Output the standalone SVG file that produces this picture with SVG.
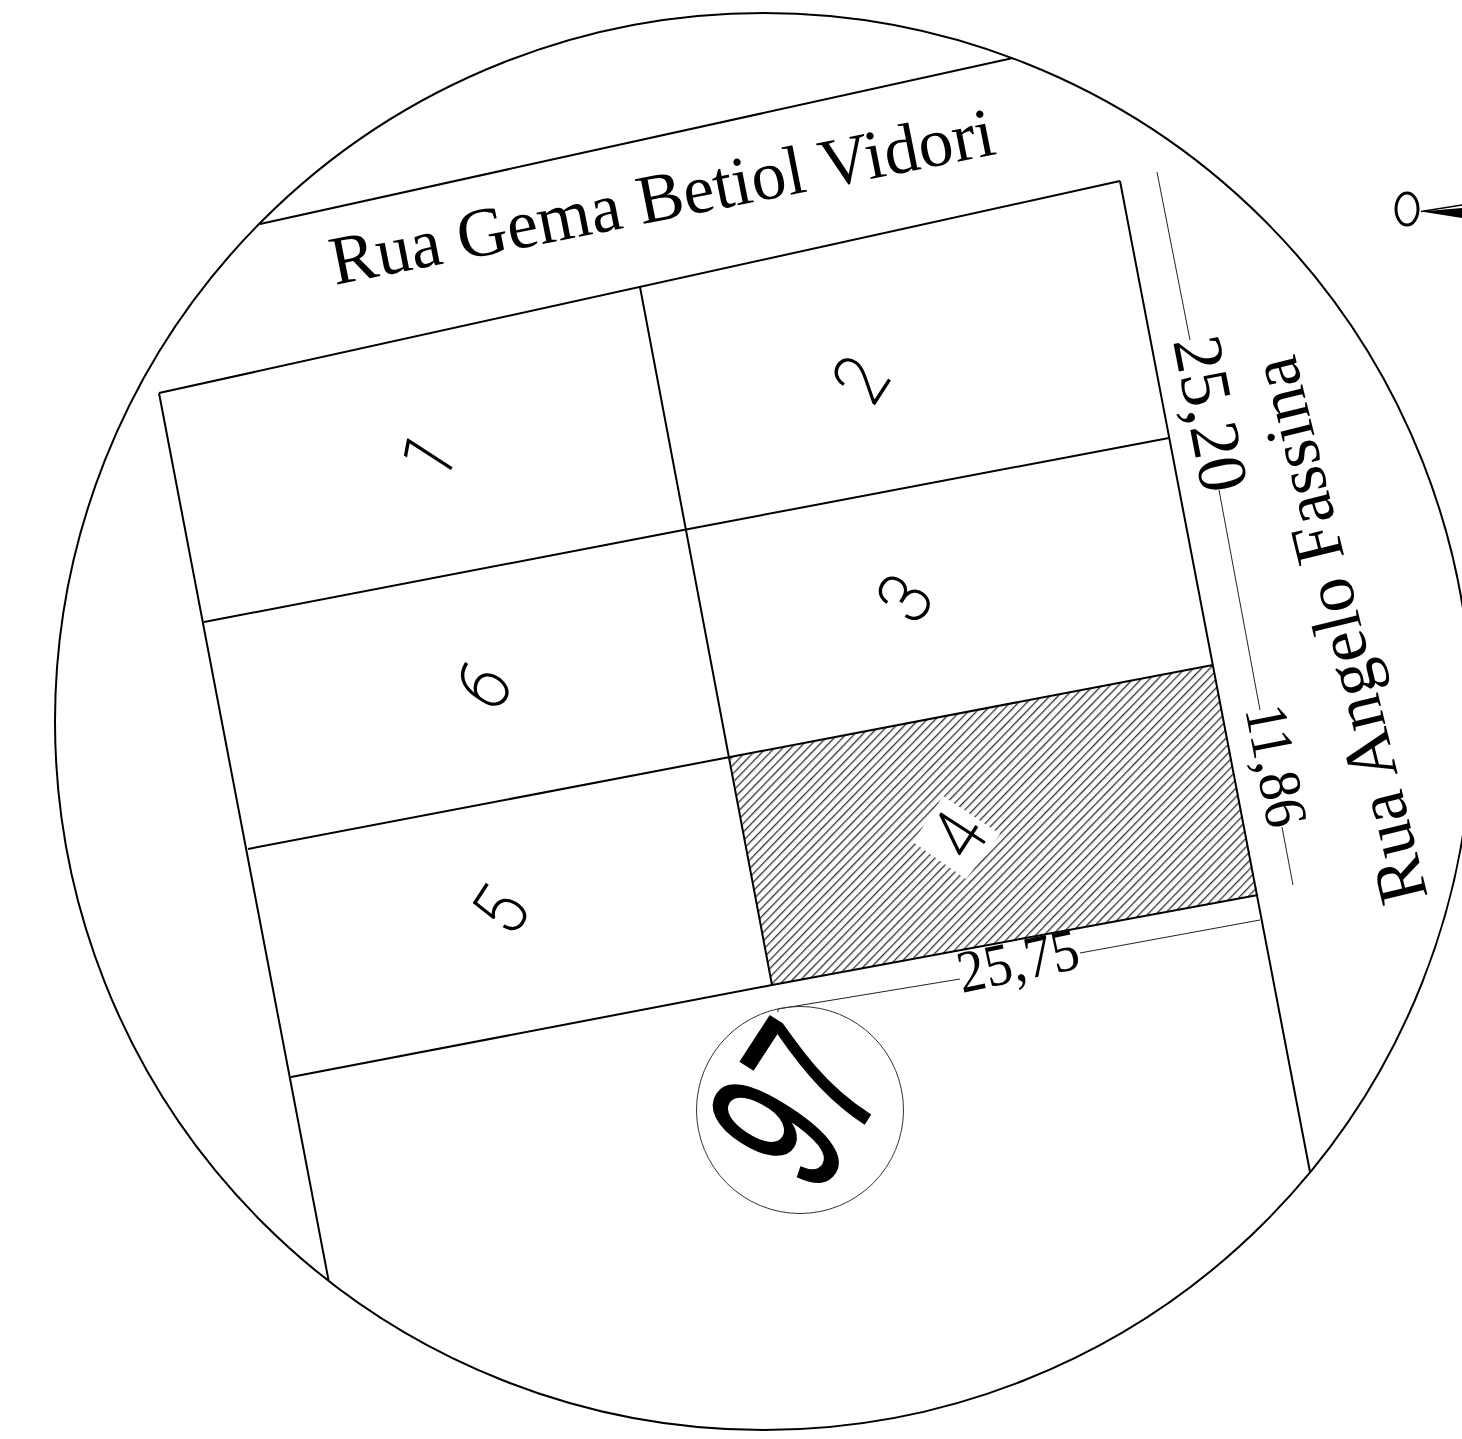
<svg xmlns="http://www.w3.org/2000/svg" width="1462" height="1439" viewBox="0 0 1462 1439">
<style>
.l{fill:none;stroke:#000;stroke-width:2}
.d{fill:none;stroke:#222;stroke-width:1}
.t{font-family:"Liberation Serif",serif;fill:#000}
.n{font-family:Roboto,sans-serif;font-weight:100;fill:#000;stroke:#000;stroke-width:1.6;font-size:73px;text-anchor:middle}
</style>
<defs>
<pattern id="h" width="6" height="6" patternUnits="userSpaceOnUse" patternTransform="rotate(-46)">
<rect width="6" height="6" fill="#fff"/><rect y="2" width="6" height="1.3" fill="#333"/>
</pattern>
</defs>
<rect width="1462" height="1439" fill="#fff"/>
<g id="site-boundary"><circle cx="763.500" cy="721.5" r="708.5" class="l"/></g>
<g id="lot-4">
<polygon points="730,757 1213,665 1258,895 772,985" fill="url(#h)"/>
<polygon points="943,796 1000,834 966,879 913,842" fill="#fff"/>
</g>
<g id="connectors">
<path class="l" d="M260,224L1013,58M159,393L1120,181M159,393L328.500,1280M1120,181L1310,1172M204,622L686,529.500L1169,438M248,849L730,757L1213,665M291,1077L772,985L1258,895M640,287L772,985"/>
<path class="d" d="M1157,172L1190,340M1219,490L1260,710M1282,827L1293,885M778,1012L778,1009L960,979M1080,953L1260,920"/>
<circle cx="800" cy="1110" r="103.500" fill="none" stroke="#333" stroke-width="1"/>
</g>
<g id="streets">
<text class="t" font-size="69.500" transform="translate(335,285) rotate(-11.2)">Rua Gema Betiol Vidori</text>
<text class="t" font-size="70" transform="translate(1428,897) rotate(-103.800)">Rua Angelo Fassina</text>
</g>
<g id="dimensions">
<text class="t" font-size="70" transform="translate(1173,341) rotate(79)">25,20</text>
<text class="t" font-size="60" transform="translate(1245,709) rotate(79) scale(0.93,1)">11,86</text>
<text class="t" font-size="60" transform="translate(962,993) rotate(-12) scale(0.91,1)">25,75</text>
</g>
<g id="lot-labels">
<text class="n" transform="translate(428,456) rotate(-57) scale(0.9,1) translate(0,26)">1</text>
<text class="n" transform="translate(860,379) rotate(-57) scale(0.9,1) translate(0,26)">2</text>
<text class="n" transform="translate(904,598) rotate(-57) scale(0.9,1) translate(0,26)">3</text>
<text class="n" transform="translate(958,835) rotate(-57) scale(0.9,1) translate(0,26)">4</text>
<text class="n" transform="translate(500,910) rotate(-57) scale(0.9,1) translate(0,26)">5</text>
<text class="n" transform="translate(483,685) rotate(-57) scale(0.9,1) translate(0,26)">6</text>
</g>
<g id="block-number">
<text font-family="Liberation Sans,sans-serif" font-size="200" text-anchor="middle" stroke="#000" stroke-width="2" transform="translate(793,1103) rotate(-57) scale(0.6,1) translate(0,71)">97</text>
</g>
<g id="north-arrow">
<ellipse cx="1407" cy="209" rx="11" ry="16" fill="none" stroke="#000" stroke-width="3"/>
<polygon points="1421,211.500 1462,208 1462,218" fill="#000"/>
<path d="M1421,211.500L1462,205" fill="none" stroke="#000" stroke-width="1.500"/>
</g>
</svg>
